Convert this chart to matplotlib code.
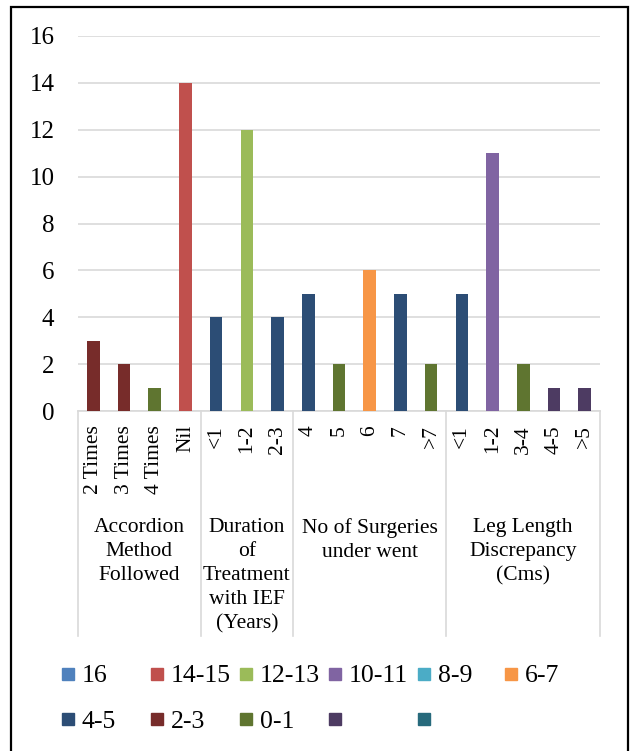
import numpy as np
import matplotlib.pyplot as plt
import matplotlib.transforms as mtransforms
from matplotlib.patches import Rectangle

plt.rcParams['font.family'] = ['Liberation Serif', 'DejaVu Serif']

# data
group_labels = ['Accordion\nMethod\nFollowed',
                'Duration\nof\nTreatment\nwith IEF\n(Years)',
                'No of Surgeries\nunder went',
                'Leg Length\nDiscrepancy\n(Cms)']
group_sizes = [4, 3, 5, 5]
categories = ['2 Times', '3 Times', '4 Times', 'Nil',
              '<1', '1-2', '2-3',
              '4', '5', '6', '7', '>7',
              '<1', '1-2', '3-4', '4-5', '>5']
values = [3, 2, 1, 14, 4, 12, 4, 5, 2, 6, 5, 2, 5, 11, 2, 1, 1]
# which legend series each bar belongs to
series_idx = [7, 7, 8, 1, 6, 2, 6, 6, 8, 5, 6, 8, 6, 3, 8, 9, 9]

series_labels = ['16', '14-15', '12-13', '10-11', '8-9', '6-7',
                 '4-5', '2-3', '0-1', '', '']
series_colors = ['#4F81BD', '#C0504D', '#9BBB59', '#8064A2', '#4BACC6', '#F79646',
                 '#2C4D75', '#772C2A', '#5F7530', '#4D3B62', '#276A7C']

W, H = 630, 751
fig = plt.figure(figsize=(W / 100, H / 100), dpi=100)
ax = fig.add_axes([78 / W, 1 - 411 / H, 522 / W, 375 / H])

x = np.arange(len(values))
ax.bar(x, values, width=0.41, color=[series_colors[i] for i in series_idx], zorder=3)

ax.set_xlim(-0.5, len(values) - 0.5)
ax.set_ylim(0, 16)
ax.set_yticks(range(0, 17, 2))
ax.grid(axis='y', color='#D9D9D9', lw=1.2)
ax.set_axisbelow(True)
for s in ['left', 'top', 'right']:
    ax.spines[s].set_visible(False)
ax.spines['bottom'].set_color('#D9D9D9')
ax.spines['bottom'].set_linewidth(1.2)
ax.tick_params(axis='y', length=0, pad=17, labelsize=18)
ax.set_xticks(x)
ax.set_xticklabels(categories, rotation=90, fontsize=15.5)
ax.tick_params(axis='x', length=0, pad=10)

# group separators and group labels
trans = mtransforms.blended_transform_factory(ax.transData, ax.transAxes)
edges = np.concatenate([[0], np.cumsum(group_sizes)]) - 0.5
for e in edges:
    ax.plot([e, e], [0, -0.6], transform=trans, color='#D9D9D9', lw=1.2, clip_on=False)
for i, lab in enumerate(group_labels):
    c = (edges[i] + edges[i + 1]) / 2
    ax.text(c, -0.285, lab, transform=trans, ha='center', va='top',
            fontsize=15.5, linespacing=1.36)

# legend
col_x = [62, 151, 240, 329, 418, 505]
row_y = [674, 719]
for k, (lab, col) in enumerate(zip(series_labels, series_colors)):
    r, cidx = divmod(k, 6)
    lx, ly = col_x[cidx], row_y[r]
    fig.add_artist(Rectangle((lx / W, 1 - (ly + 6) / H), 12 / W, 12 / H,
                             transform=fig.transFigure, color=col))
    fig.text((lx + 20) / W, 1 - ly / H, lab, ha='left', va='center_baseline', fontsize=18.5)

# outer frame
fig.add_artist(Rectangle((11 / W, -0.02), 617 / W, 1 - 7 / H + 0.02,
                         transform=fig.transFigure, fill=False, ec='black', lw=1.6,
                         clip_on=False))

fig.savefig('out.png', dpi=100)
